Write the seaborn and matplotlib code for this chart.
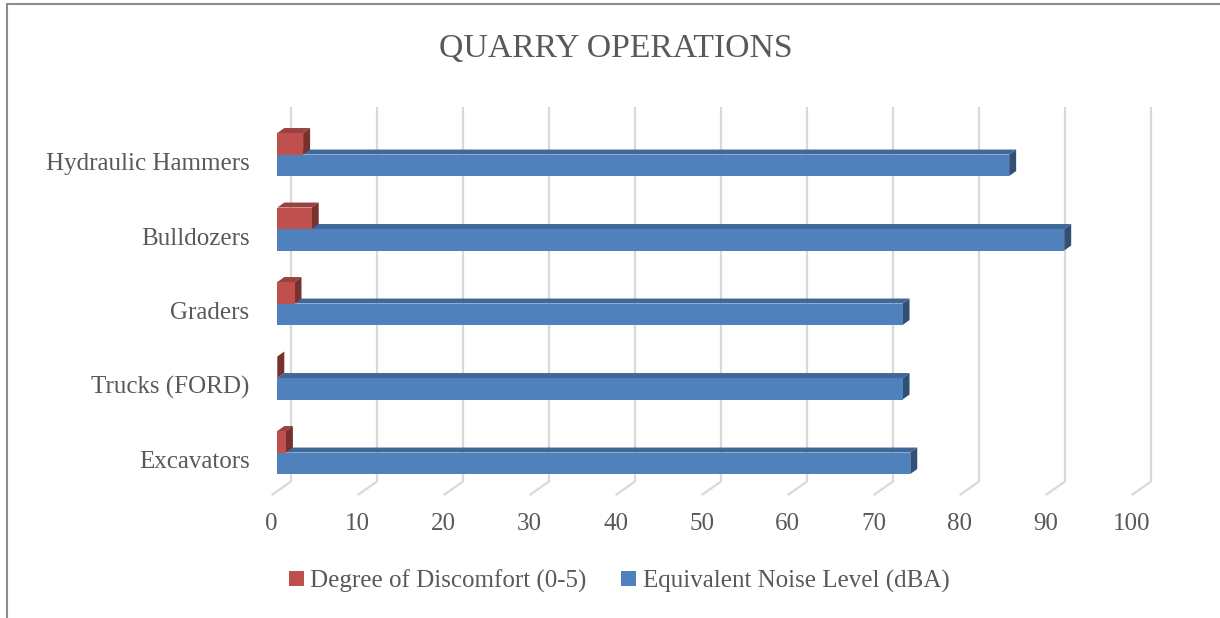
import pandas as pd
import matplotlib.pyplot as plt
import matplotlib.colors as mcolors
from matplotlib.patches import Polygon
from matplotlib.lines import Line2D
from matplotlib.transforms import ScaledTranslation
import seaborn as sns

# chart data
equipment = ["Hydraulic Hammers", "Bulldozers", "Graders", "Trucks (FORD)", "Excavators"]
discomfort = [3, 4, 2, 0, 1]
noise_level = [85.1, 91.5, 72.7, 72.7, 73.6]
series_names = ["Degree of Discomfort (0-5)", "Equivalent Noise Level (dBA)"]
series_colors = ["#C0504D", "#4F81BD"]
x_ticks = list(range(0, 101, 10))

sns.set_style("white")
plt.rcParams['font.family'] = ['Liberation Serif', 'DejaVu Serif']
TEXT = "#595959"
GRID = "#D9D9D9"

df = pd.concat([
    pd.DataFrame({"Equipment": equipment, "Value": discomfort, "Series": series_names[0]}),
    pd.DataFrame({"Equipment": equipment, "Value": noise_level, "Series": series_names[1]}),
])

FW, FH = 1220, 618
fig = plt.figure(figsize=(FW / 100, FH / 100), dpi=100)
# axes in pixel terms: x=0 at 277.3px, x=100 at 1137.3px; top 107px, bottom 495px
ax = fig.add_axes([277.3 / FW, (FH - 495) / FH, 860 / FW, 388 / FH])
ax.patch.set_visible(False)

sns.barplot(data=df, y="Equipment", x="Value", hue="Series", order=equipment,
            hue_order=series_names, palette=series_colors, saturation=1,
            width=0.577, linewidth=0, ax=ax)

handles, labels = ax.get_legend_handles_labels()
ax.get_legend().remove()

ax.set_xlim(0, 100)
ax.set_ylim(4.570, -0.638)
px_x = 8.6    # pixels per x unit
px_y = 74.5   # pixels per category

# 3D-looking top and side faces for each bar
ddx = 7 / px_x
ddy = -5 / px_y
for p in list(ax.patches):
    fc = mcolors.to_rgb(p.get_facecolor())
    is_red = fc[0] > fc[2]
    x0, w = p.get_x(), p.get_width()
    y0, h = p.get_y(), p.get_height()
    yt, yb = min(y0, y0 + h), max(y0, y0 + h)
    x1 = x0 + w
    z = 0.95 if is_red else 0.9
    top = Polygon([(x0, yt), (x1, yt), (x1 + ddx, yt + ddy), (x0 + ddx, yt + ddy)],
                  closed=True, facecolor=tuple(c * 0.8 for c in fc), edgecolor="none",
                  zorder=z)
    side = Polygon([(x1, yt), (x1 + ddx, yt + ddy), (x1 + ddx, yb + ddy), (x1, yb)],
                   closed=True, facecolor=tuple(c * 0.62 for c in fc), edgecolor="none",
                   zorder=z)
    ax.add_patch(top)
    ax.add_patch(side)

# back-wall gridlines and floor diagonals
back_dx = 13.4 / px_x
front_dx = -5.6 / px_x
y_top = -0.638
y_back_floor = 4.570 - 13.3 / px_y
y_front_floor = 4.570
for v in x_ticks:
    ax.plot([v + back_dx, v + back_dx], [y_top, y_back_floor], color=GRID, lw=1.6,
            zorder=0, clip_on=False, solid_capstyle="butt")
    ax.plot([v + back_dx, v + front_dx], [y_back_floor, y_front_floor], color=GRID,
            lw=1.6, zorder=0, clip_on=False, solid_capstyle="butt")

for s in ax.spines.values():
    s.set_visible(False)

ax.set_xticks(x_ticks)
ax.set_xticklabels([str(v) for v in x_ticks])
ax.tick_params(axis="x", length=0, pad=13, labelsize=18, labelcolor=TEXT)
ax.tick_params(axis="y", length=0, pad=20, labelsize=18, labelcolor=TEXT)
ax.set_xlabel("")
ax.set_ylabel("")
for lab in ax.get_xticklabels():
    lab.set_transform(lab.get_transform() + ScaledTranslation(-5.6 / 100, 0, fig.dpi_scale_trans))
for lab in ax.get_yticklabels():
    lab.set_transform(lab.get_transform() + ScaledTranslation(0, -7 / 100, fig.dpi_scale_trans))

fig.text(616 / FW, 1 - 57 / FH, "QUARRY OPERATIONS", ha="center", va="baseline",
         fontsize=24.3, color=TEXT)

fig.legend(handles, labels, loc="center", bbox_to_anchor=(619 / FW, 1 - 581 / FH),
           ncol=2, frameon=False, fontsize=18, labelcolor=TEXT,
           handlelength=0.6, handleheight=0.6, handletextpad=0.25,
           columnspacing=1.4)

# chart area border (top and left edges)
fig.add_artist(Line2D([7 / FW, 1], [1 - 4 / FH, 1 - 4 / FH], color="#8C8C8C", lw=1.5,
                      transform=fig.transFigure))
fig.add_artist(Line2D([7 / FW, 7 / FW], [0, 1 - 4 / FH], color="#8C8C8C", lw=1.5,
                      transform=fig.transFigure))

fig.savefig("out.png", dpi=100, facecolor="white")
